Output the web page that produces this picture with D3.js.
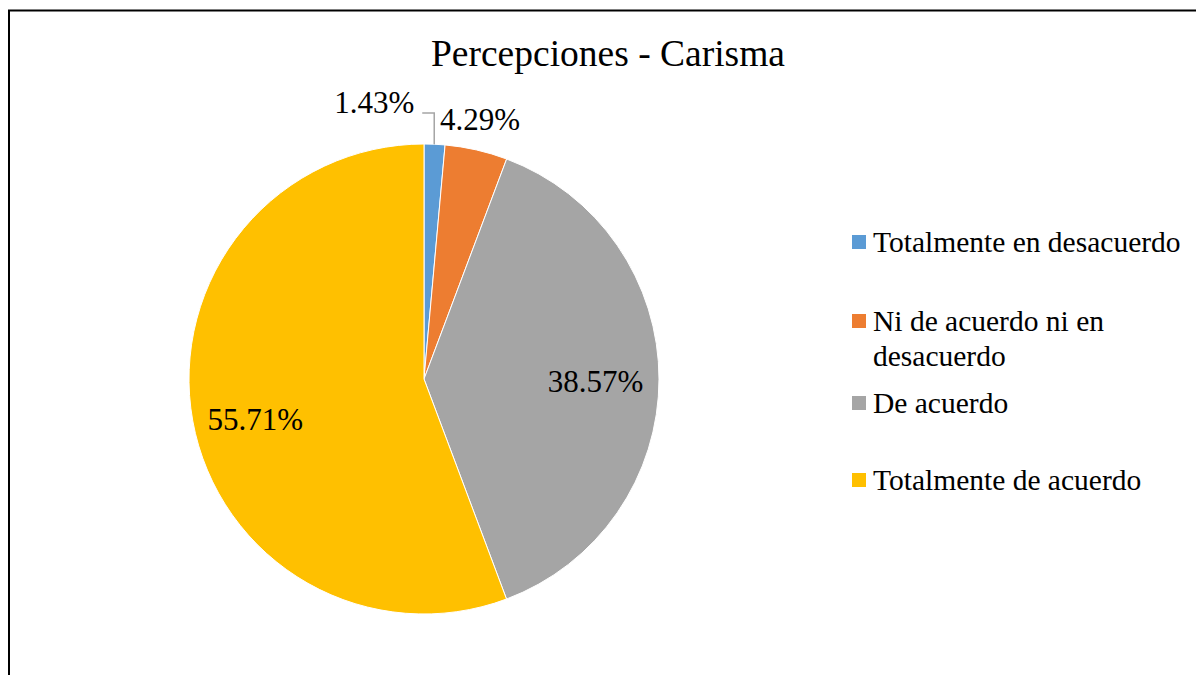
<!DOCTYPE html>
<html>
<head>
<meta charset="utf-8">
<script src="https://cdn.jsdelivr.net/npm/d3@7"></script>
<style>
  body { margin: 0; background: #fff; }
  svg { display: block; font-family: "Liberation Serif", "Times New Roman", serif; }
</style>
</head>
<body>
<div id="chart"></div>
<script>
// chart data
var title = "Percepciones - Carisma";
var categories = ["Totalmente en desacuerdo", "Ni de acuerdo ni en desacuerdo", "De acuerdo", "Totalmente de acuerdo"];
var legendLines = [["Totalmente en desacuerdo"], ["Ni de acuerdo ni en", "desacuerdo"], ["De acuerdo"], ["Totalmente de acuerdo"]];
var values = [1.43, 4.29, 38.57, 55.71];
var colors = ["#5B9BD5", "#ED7D31", "#A5A5A5", "#FFC000"];

var width = 1196, height = 675;
var cx = 424, cy = 379, radius = 235;

var svg = d3.select("#chart").append("svg")
    .attr("width", width)
    .attr("height", height);

// frame (cut off at right and bottom like the source)
svg.append("path")
    .attr("d", "M9,676 L9,10.5 L1197,10.5")
    .attr("fill", "none")
    .attr("stroke", "#000")
    .attr("stroke-width", 2);

svg.append("text")
    .attr("x", 608)
    .attr("y", 66)
    .attr("text-anchor", "middle")
    .style("font-size", "37.5px")
    .text(title);

var pie = d3.pie().sort(null).value(function(d){ return d; });
var arcs = pie(values);

var arc = d3.arc().innerRadius(0).outerRadius(radius);
var labelArc = d3.arc().innerRadius(radius * 0.73).outerRadius(radius * 0.73);

var g = svg.append("g").attr("transform", "translate(" + cx + "," + cy + ")");

g.selectAll("path.slice")
    .data(arcs)
    .enter().append("path")
    .attr("class", "slice")
    .attr("d", arc)
    .attr("fill", function(d, i){ return colors[i]; })
    .attr("stroke", "#fff")
    .attr("stroke-width", 1);

function fmt(v){ return v.toFixed(2) + "%"; }
function midAngle(d){ return (d.startAngle + d.endAngle) / 2; }

// big slices: label inside
arcs.forEach(function(d, i){
    if (d.value < 10) return;
    var c = labelArc.centroid(d);
    g.append("text")
        .attr("x", c[0])
        .attr("y", c[1] + (i === 3 ? 10 : 2))
        .attr("text-anchor", "middle")
        .attr("dominant-baseline", "central")
        .style("font-size", "31px")
        .text(fmt(d.value));
});

// first slice: label left with leader line
var d0 = arcs[0];
var a0 = midAngle(d0);
var px = Math.sin(a0) * radius * 0.97, py = -Math.cos(a0) * radius;
var ly = -radius - 31;
g.append("polyline")
    .attr("points", [[px, py], [px, ly], [px - 12, ly]].join(" "))
    .attr("fill", "none")
    .attr("stroke", "#A5A5A5")
    .attr("stroke-width", 1.5);
g.append("text")
    .attr("x", px - 20)
    .attr("y", ly)
    .attr("text-anchor", "end")
    .style("font-size", "31px")
    .text(fmt(d0.value));

// second slice: label just outside the arc
var d1 = arcs[1];
var a1 = midAngle(d1);
g.append("text")
    .attr("x", Math.sin(a1) * (radius + 8) + 2)
    .attr("y", -Math.cos(a1) * (radius + 8) - 12)
    .attr("text-anchor", "middle")
    .style("font-size", "31px")
    .text(fmt(d1.value));

// legend
var legend = svg.append("g").attr("transform", "translate(852,0)");
var rowY = [252, 331, 413, 490];
legendLines.forEach(function(lines, i){
    legend.append("rect")
        .attr("x", 0)
        .attr("y", rowY[i] - 17)
        .attr("width", 14)
        .attr("height", 14)
        .attr("fill", colors[i]);
    var t = legend.append("text")
        .attr("x", 21)
        .attr("y", rowY[i])
        .style("font-size", "29.5px");
    lines.forEach(function(line, j){
        t.append("tspan")
            .attr("x", 21)
            .attr("dy", j === 0 ? 0 : 35)
            .text(line);
    });
});
</script>
</body>
</html>
